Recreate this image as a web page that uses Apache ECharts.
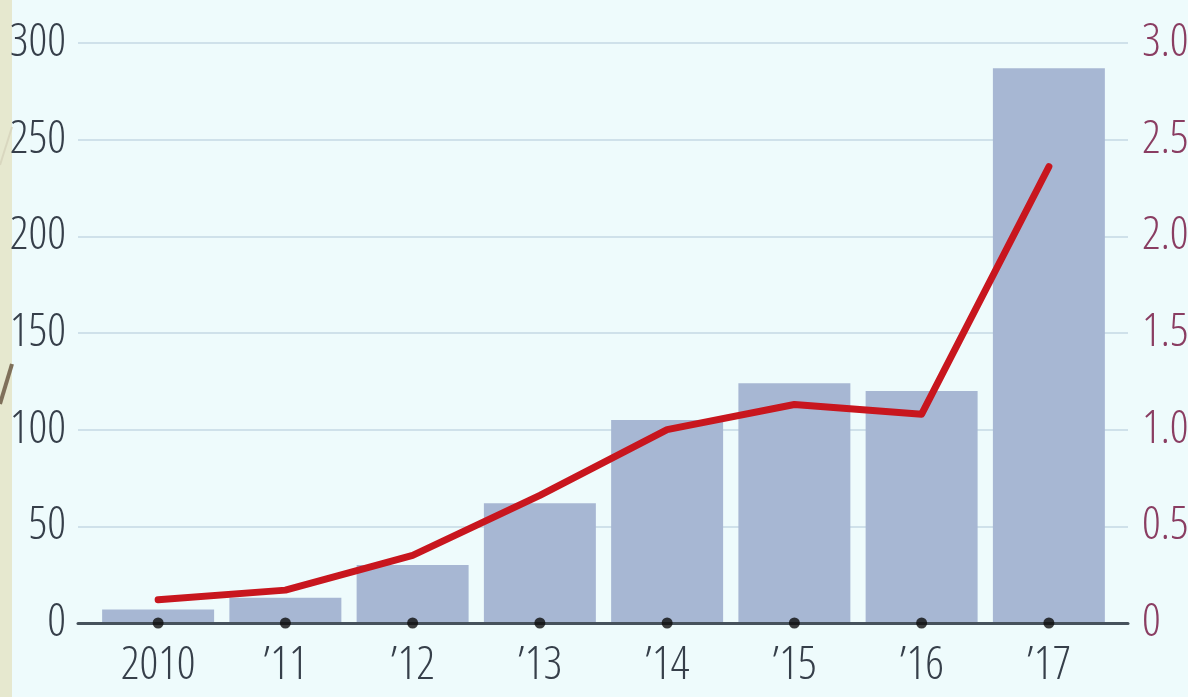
<!DOCTYPE html>
<html>
<head>
<meta charset="utf-8">
<script src="https://cdn.jsdelivr.net/npm/echarts@6/dist/echarts.min.js"></script>
<style>
html,body{margin:0;padding:0;background:#eefbfc;}
#c{width:1188px;height:697px;}
</style>
</head>
<body>
<div id="c"></div>
<script>
const categories = ['2010', '\u201911', '\u201912', '\u201913', '\u201914', '\u201915', '\u201916', '\u201917'];
const barValues = [7, 13, 30, 62, 105, 124, 120, 287];
const lineValues = [0.12, 0.17, 0.35, 0.66, 1.0, 1.13, 1.08, 2.36];
const tickDots = [0, 0, 0, 0, 0, 0, 0, 0];
const leftTicks = { min: 0, max: 300, interval: 50 };
const rightTicks = { min: 0, max: 3, interval: 0.5 };

const FONT = "'Open Sans', 'Roboto Condensed', sans-serif";
const STRETCH = 'extra-condensed';
const FS = 46;
const chart = echarts.init(document.getElementById('c'), null, { renderer: 'canvas' });

const TOP = 43, BOTTOM = 74;
chart.setOption({
  backgroundColor: '#eefbfc',
  animation: false,
  graphic: [
    { type: 'rect', left: 0, top: 0, shape: { width: 12, height: 697 }, style: { fill: '#e6e8cf' }, z: -1 },
    { type: 'line', shape: { x1: 0, y1: 404, x2: 12, y2: 364 }, style: { stroke: '#7f705a', lineWidth: 4 }, z: 0 },
    { type: 'line', shape: { x1: 0, y1: 165, x2: 12, y2: 127 }, style: { stroke: '#d9d7bf', lineWidth: 2 }, z: 0 }
  ],
  grid: [
    { left: 94.5, right: 75.5, top: TOP, bottom: BOTTOM, outerBoundsMode: 'none', containLabel: false },
    { left: 78, right: 60, top: TOP, bottom: BOTTOM, outerBoundsMode: 'none', containLabel: false }
  ],
  xAxis: [
    {
      type: 'category', gridIndex: 0, data: categories,
      axisLine: { show: false }, axisTick: { show: false },
      axisLabel: { fontFamily: FONT, fontStyle: STRETCH, fontWeight: 300, fontSize: FS, color: '#363f4a', margin: 20 }
    },
    {
      type: 'value', gridIndex: 1, min: 0, max: 1, z: 10,
      axisLine: { show: true, onZero: false, lineStyle: { color: '#46525c', width: 3 } },
      axisTick: { show: false }, axisLabel: { show: false }, splitLine: { show: false }
    }
  ],
  yAxis: [
    { type: 'value', gridIndex: 0, min: leftTicks.min, max: leftTicks.max, interval: leftTicks.interval, show: false },
    { type: 'value', gridIndex: 0, min: rightTicks.min, max: rightTicks.max, interval: rightTicks.interval, show: false },
    {
      type: 'value', gridIndex: 1, position: 'left',
      min: leftTicks.min, max: leftTicks.max, interval: leftTicks.interval,
      axisLine: { show: false }, axisTick: { show: false },
      axisLabel: { fontFamily: FONT, fontStyle: STRETCH, fontWeight: 300, fontSize: FS, color: '#363f4a', margin: 12, padding: [0, 0, 12, 0] },
      splitLine: { show: true, lineStyle: { color: '#cfe1ea', width: 2 } }
    },
    {
      type: 'value', gridIndex: 1, position: 'right',
      min: rightTicks.min, max: rightTicks.max, interval: rightTicks.interval,
      axisLine: { show: false }, axisTick: { show: false },
      axisLabel: {
        fontFamily: FONT, fontStyle: STRETCH, fontWeight: 300, fontSize: FS, color: '#8a3d62', margin: 14, padding: [0, 0, 12, 0],
        formatter: v => v === 0 ? '0' : v.toFixed(1)
      },
      splitLine: { show: false }
    }
  ],
  series: [
    {
      type: 'bar', xAxisIndex: 0, yAxisIndex: 0, data: barValues,
      barCategoryGap: '12%', itemStyle: { color: '#a7b7d3' }, z: 2
    },
    {
      type: 'line', xAxisIndex: 0, yAxisIndex: 1, data: lineValues,
      symbol: 'none', lineStyle: { color: '#c8161e', width: 7, cap: 'round', join: 'round' }, z: 5
    },
    {
      type: 'scatter', xAxisIndex: 0, yAxisIndex: 0, data: tickDots,
      symbol: 'circle', symbolSize: 11, itemStyle: { color: '#0d0d0d' }, z: 20, clip: false
    }
  ]
});
</script>
</body>
</html>
